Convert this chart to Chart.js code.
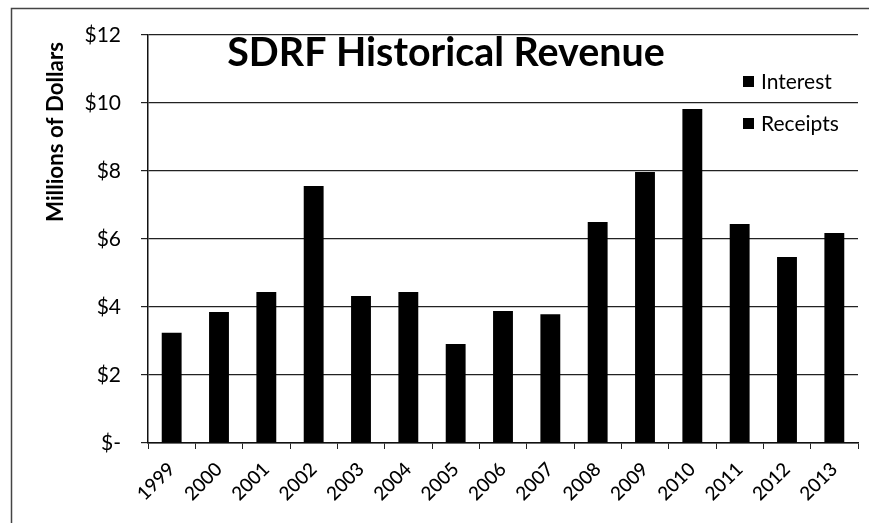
<!DOCTYPE html>
<html>
<head>
<meta charset="utf-8">
<script src="https://cdn.jsdelivr.net/npm/chart.js@4.4.1/dist/chart.umd.min.js"></script>
<style>
  html, body { margin: 0; padding: 0; background: #fff; }
  #wrap { width: 869px; height: 523px; position: relative; }
</style>
</head>
<body>
<div id="wrap"><canvas id="revChart" width="869" height="523"></canvas></div>
<script>
// years on the x axis
const years = ['1999','2000','2001','2002','2003','2004','2005','2006','2007','2008','2009','2010','2011','2012','2013'];
// bar heights, millions of dollars (both series print black, so the total sits in receipts)
const receipts = [3.24, 3.85, 4.44, 7.56, 4.32, 4.44, 2.91, 3.88, 3.79, 6.5, 7.97, 9.82, 6.44, 5.47, 6.18];
const interest = [0, 0, 0, 0, 0, 0, 0, 0, 0, 0, 0, 0, 0, 0, 0];
const yTicks = [0, 2, 4, 6, 8, 10, 12];

const FONT = 'Lato, "Open Sans", sans-serif';

// squeeze a string to a given width by picking the font size
function fitFont(ctx, text, weight, width) {
  ctx.font = weight + ' 40px ' + FONT;
  const s = 40 * width / ctx.measureText(text).width;
  ctx.font = weight + ' ' + s.toFixed(1) + 'px ' + FONT;
}

// title, axis title, legend and outer frame drawn by hand to sit where the original puts them
const extras = {
  id: 'extras',
  afterDraw(chart) {
    const ctx = chart.ctx;
    ctx.save();

    ctx.strokeStyle = '#444';
    ctx.lineWidth = 1.5;
    ctx.strokeRect(11.5, 8.5, 900, 600);

    // title
    ctx.fillStyle = '#000';
    fitFont(ctx, 'SDRF Historical Revenue', 'bold', 438);
    ctx.textAlign = 'center';
    ctx.textBaseline = 'alphabetic';
    ctx.fillText('SDRF Historical Revenue', 446, 66);

    // y axis title
    ctx.save();
    ctx.translate(56, 132);
    ctx.rotate(-Math.PI / 2);
    ctx.textBaseline = 'middle';
    fitFont(ctx, 'Millions of Dollars', 'bold', 180);
    ctx.fillText('Millions of Dollars', 0, 0);
    ctx.restore();

    // legend
    const names = [chart.data.datasets[1].label, chart.data.datasets[0].label];
    const ys = [82, 124];
    ctx.font = '21px ' + FONT;
    ctx.textAlign = 'left';
    ctx.textBaseline = 'middle';
    names.forEach((n, i) => {
      ctx.fillRect(743, ys[i] - 6, 11, 11);
      ctx.fillText(n, 761, ys[i]);
    });
    ctx.restore();
  }
};

const ctx = document.getElementById('revChart').getContext('2d');
const revChart = new Chart(ctx, {
  type: 'bar',
  data: {
    labels: years,
    datasets: [
      { label: 'Receipts', data: receipts, backgroundColor: '#000', stack: 's' },
      { label: 'Interest', data: interest, backgroundColor: '#000', stack: 's' }
    ]
  },
  options: {
    responsive: false,
    animation: false,
    layout: { padding: { left: 0, right: 11, top: 35, bottom: 0 } },
    plugins: {
      legend: { display: false },
      title: { display: false },
      tooltip: { enabled: false }
    },
    datasets: { bar: { categoryPercentage: 1, barPercentage: 0.42 } },
    scales: {
      x: {
        stacked: true,
        afterFit(scale) { scale.height = 80; },
        grid: { drawOnChartArea: false, color: '#222', tickLength: 6 },
        border: { color: '#111', width: 1.5 },
        ticks: {
          color: '#000',
          maxRotation: 45, minRotation: 45,
          padding: 9,
          font: { family: FONT, size: 19, weight: '500' }
        }
      },
      y: {
        stacked: true,
        min: 0, max: 12,
        afterFit(scale) { scale.width = 148; },
        afterBuildTicks(scale) { scale.ticks = yTicks.map(v => ({ value: v })); },
        grid: { color: '#222', lineWidth: 1.2, tickLength: 7 },
        border: { color: '#111', width: 1.5 },
        ticks: {
          color: '#000',
          padding: 20,
          font: { family: FONT, size: 21 },
          callback: v => v === 0 ? '$-' : '$' + v
        }
      }
    }
  },
  plugins: [extras]
});
</script>
</body>
</html>
